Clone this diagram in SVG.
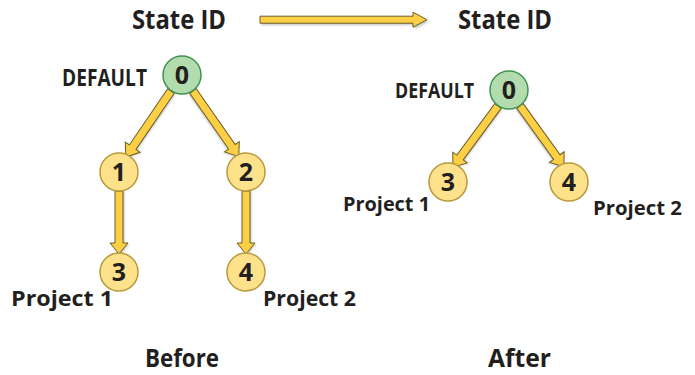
<svg xmlns="http://www.w3.org/2000/svg" width="695" height="375" viewBox="0 0 695 375">
  <defs>
    <style>
      .lbl { font-family: "Open Sans", "Liberation Sans", sans-serif; font-weight: 700; fill: #231f20; }
      .num { font-family: "Open Sans", "Liberation Sans", sans-serif; font-weight: 700; font-size: 25px; fill: #231f20; text-anchor: middle; }
      .root { fill: #b3dcae; stroke: #3f9350; stroke-width: 1.5; }
      .state { fill: #fde28b; stroke: #b8993b; stroke-width: 1.5; }
      .arrow { fill: #fccf45; stroke: #6b5c25; stroke-width: 1; stroke-linejoin: miter; }
      .shadow { fill: #000; opacity: 0.22; }
    </style>
    <filter id="soft" x="-20%" y="-20%" width="140%" height="140%">
      <feGaussianBlur stdDeviation="0.8"/>
    </filter>
  </defs>

  <!-- header labels and transition arrow -->
  <text class="lbl" x="132" y="29" font-size="27" textLength="94" lengthAdjust="spacingAndGlyphs">State ID</text>
  <text class="lbl" x="458" y="29" font-size="27" textLength="94" lengthAdjust="spacingAndGlyphs">State ID</text>

  <g id="connectors">
    <!-- horizontal transition arrow -->
    <g transform="translate(260,19.7)">
      <path class="shadow" filter="url(#soft)" transform="translate(1.5,2)" d="M0,-3.5 H153 V-7.5 L167,0 L153,7.5 V3.5 H0 Z"/>
      <path class="arrow" d="M0,-3.5 H153 V-7.5 L167,0 L153,7.5 V3.5 H0 Z"/>
    </g>
    <!-- before: 0 -> 1 -->
    <g transform="translate(171,91) rotate(124.3)">
      <path class="shadow" filter="url(#soft)" transform="translate(0,-1.5)" d="M0,-4 H68 V-9 L80,0 L68,9 V4 H0 Z"/>
      <path class="arrow" d="M0,-4 H68 V-9 L80,0 L68,9 V4 H0 Z"/>
    </g>
    <!-- before: 0 -> 2 -->
    <g transform="translate(193,91) rotate(55.1)">
      <path class="shadow" filter="url(#soft)" transform="translate(0,1.5)" d="M0,-4 H68 V-9 L80,0 L68,9 V4 H0 Z"/>
      <path class="arrow" d="M0,-4 H68 V-9 L80,0 L68,9 V4 H0 Z"/>
    </g>
    <!-- before: 1 -> 3 -->
    <g transform="translate(119,191) rotate(90)">
      <path class="shadow" filter="url(#soft)" transform="translate(1,-1.5)" d="M0,-4 H52 V-9 L63,0 L52,9 V4 H0 Z"/>
      <path class="arrow" d="M0,-4 H52 V-9 L63,0 L52,9 V4 H0 Z"/>
    </g>
    <!-- before: 2 -> 4 -->
    <g transform="translate(246,191) rotate(90)">
      <path class="shadow" filter="url(#soft)" transform="translate(1,-1.5)" d="M0,-4 H52 V-9 L63,0 L52,9 V4 H0 Z"/>
      <path class="arrow" d="M0,-4 H52 V-9 L63,0 L52,9 V4 H0 Z"/>
    </g>
    <!-- after: 0 -> 3 -->
    <g transform="translate(498,106) rotate(126.4)">
      <path class="shadow" filter="url(#soft)" transform="translate(0,-1.5)" d="M0,-4 H64 V-9 L76,0 L64,9 V4 H0 Z"/>
      <path class="arrow" d="M0,-4 H64 V-9 L76,0 L64,9 V4 H0 Z"/>
    </g>
    <!-- after: 0 -> 4 -->
    <g transform="translate(520,106) rotate(54.2)">
      <path class="shadow" filter="url(#soft)" transform="translate(0,1.5)" d="M0,-4 H63 V-9 L75,0 L63,9 V4 H0 Z"/>
      <path class="arrow" d="M0,-4 H63 V-9 L75,0 L63,9 V4 H0 Z"/>
    </g>
  </g>

  <!-- before tree -->
  <g id="before-0">
    <circle class="root" cx="182" cy="75" r="19"/>
    <text class="num" x="182" y="84">0</text>
    <text class="lbl" x="62" y="86" font-size="23" textLength="85" lengthAdjust="spacingAndGlyphs">DEFAULT</text>
  </g>
  <g id="before-1">
    <circle class="state" cx="119" cy="172" r="19"/>
    <text class="num" x="119" y="181">1</text>
  </g>
  <g id="before-2">
    <circle class="state" cx="246" cy="172" r="19"/>
    <text class="num" x="246" y="181">2</text>
  </g>
  <g id="before-3">
    <circle class="state" cx="119" cy="272" r="19"/>
    <text class="num" x="119" y="281">3</text>
    <text class="lbl" x="11" y="306" font-size="22" textLength="102" lengthAdjust="spacingAndGlyphs">Project 1</text>
  </g>
  <g id="before-4">
    <circle class="state" cx="246" cy="272" r="19"/>
    <text class="num" x="246" y="281">4</text>
    <text class="lbl" x="263" y="306" font-size="22" textLength="93" lengthAdjust="spacingAndGlyphs">Project 2</text>
  </g>

  <!-- after tree -->
  <g id="after-0">
    <circle class="root" cx="509" cy="90" r="19"/>
    <text class="num" x="509" y="99">0</text>
    <text class="lbl" x="395" y="98" font-size="22" textLength="79" lengthAdjust="spacingAndGlyphs">DEFAULT</text>
  </g>
  <g id="after-3">
    <circle class="state" cx="448" cy="182" r="19"/>
    <text class="num" x="448" y="191">3</text>
    <text class="lbl" x="343" y="211" font-size="20" textLength="87" lengthAdjust="spacingAndGlyphs">Project 1</text>
  </g>
  <g id="after-4">
    <circle class="state" cx="569" cy="182" r="19"/>
    <text class="num" x="569" y="191">4</text>
    <text class="lbl" x="593" y="215" font-size="20" textLength="89" lengthAdjust="spacingAndGlyphs">Project 2</text>
  </g>

  <!-- captions -->
  <text class="lbl" x="145" y="367" font-size="25" textLength="74" lengthAdjust="spacingAndGlyphs">Before</text>
  <text class="lbl" x="488" y="367" font-size="25" textLength="63" lengthAdjust="spacingAndGlyphs">After</text>
</svg>
